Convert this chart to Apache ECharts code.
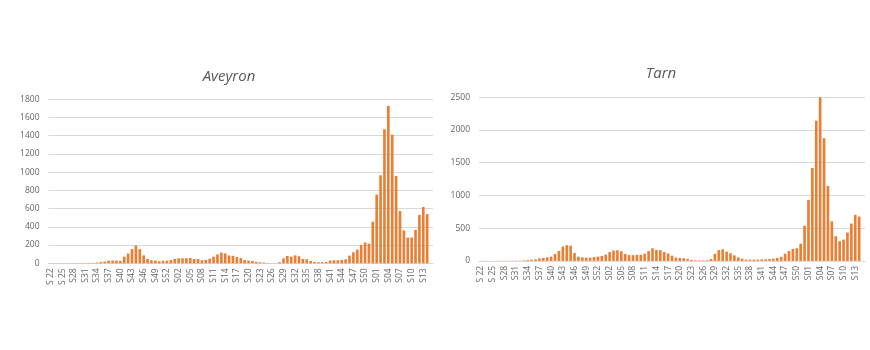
<!DOCTYPE html>
<html><head><meta charset="utf-8">
<script src="https://cdn.jsdelivr.net/npm/echarts@6/dist/echarts.min.js"></script>
<style>html,body{margin:0;padding:0;background:#fff}#c{width:870px;height:350px}</style>
</head><body><div id="c"></div><script>
// Week labels: S22 2020 .. S53 2020, S01..S52 2021, S01..S15 2022
const weeks = [
 "S 22","S 23","S 24","S 25","S 26","S 27","S28","S29","S30","S31","S32","S33","S34","S35","S36","S37",
 "S38","S39","S40","S41","S42","S43","S44","S45","S46","S47","S48","S49","S50","S51","S52","S53",
 "S01","S02","S03","S04","S05","S06","S07","S08","S09","S10","S11","S12","S13","S14","S15","S16",
 "S17","S18","S19","S20","S21","S22","S23","S24","S25","S26","S27","S28","S29","S30","S31","S32",
 "S33","S34","S35","S36","S37","S38","S39","S40","S41","S42","S43","S44","S45","S46","S47","S48",
 "S49","S50","S51","S52",
 "S01","S02","S03","S04","S05","S06","S07","S08","S09","S10","S11","S12","S13","S14","S15"
];
const aveyron = [
 2,1,1,2,2,1,2,3,3,3,4,5,
 8,15,18,29,30,30,27,73,108,156,196,156,87,47,33,29,22,29,29,36,
 48,55,55,55,58,47,47,33,38,50,73,98,118,108,86,82,70,58,35,30,25,16,11,8,3,1,1,12,
 55,80,73,87,78,47,44,25,15,12,12,15,30,33,33,37,44,84,121,150,201,230,216,457,
 754,966,1471,1727,1412,959,574,362,282,282,366,531,618,541,null
];
const tarn = [
 2,2,1,1,2,2,2,3,3,4,5,
 8,13,18,24,39,44,54,65,105,151,220,240,232,120,65,54,49,49,60,65,75,
 95,135,158,162,148,105,88,88,92,92,110,148,193,168,165,135,114,80,50,45,40,30,15,9,8,8,10,29,
 110,167,177,141,116,85,54,34,19,18,18,18,24,24,29,34,47,62,110,150,183,193,262,537,
 932,1420,2143,2500,1874,1146,606,377,300,326,433,570,703,677,null
];
const titles = ["Aveyron","Tarn"];

const chart = echarts.init(document.getElementById('c'), null, {renderer:'canvas'});
const grey = '#d9d9d9';
const labelColor = '#666';
const font = '"Open Sans", "Noto Sans", sans-serif';
function xAx(gi){
  return {type:'category', gridIndex:gi, data:weeks, boundaryGap:true,
    axisLine:{lineStyle:{color:grey,width:1}}, axisTick:{show:false},
    axisLabel:{interval:2, rotate:90, color:labelColor, fontSize:8.5, fontFamily:font, margin:5}};
}
function yAx(gi, max, step){
  return {type:'value', gridIndex:gi, min:0, max:max, interval:step,
    axisLine:{show:false}, axisTick:{show:false},
    splitLine:{lineStyle:{color:grey,width:1}},
    axisLabel:{color:labelColor, fontSize:8.5, fontFamily:font, margin:9, formatter:function(v){return String(v);}}};
}
chart.setOption({
  animation:false,
  backgroundColor:'#fff',
  grid:[
    {left:48.5, right:437, top:99.3, bottom:86.7, containLabel:false, outerBoundsMode:'none'},
    {left:479, right:5, top:97.3, bottom:89.1, containLabel:false, outerBoundsMode:'none'}
  ],
  xAxis:[xAx(0), xAx(1)],
  yAxis:[yAx(0,1800,200), yAx(1,2500,500)],
  series:[
    {type:'bar', xAxisIndex:0, yAxisIndex:0, data:aveyron, barWidth:'68%', itemStyle:{color:'#ED7D31'}},
    {type:'bar', xAxisIndex:1, yAxisIndex:1, data:tarn, barWidth:'68%', itemStyle:{color:'#ED7D31'}}
  ],
  graphic:[
    {type:'text', x:229, y:77, style:{text:titles[0], fill:'#595959', font:'italic 15px '+font, textAlign:'center', textVerticalAlign:'middle'}},
    {type:'text', x:661, y:74, style:{text:titles[1], fill:'#595959', font:'italic 15px '+font, textAlign:'center', textVerticalAlign:'middle'}}
  ]
});
</script></body></html>
